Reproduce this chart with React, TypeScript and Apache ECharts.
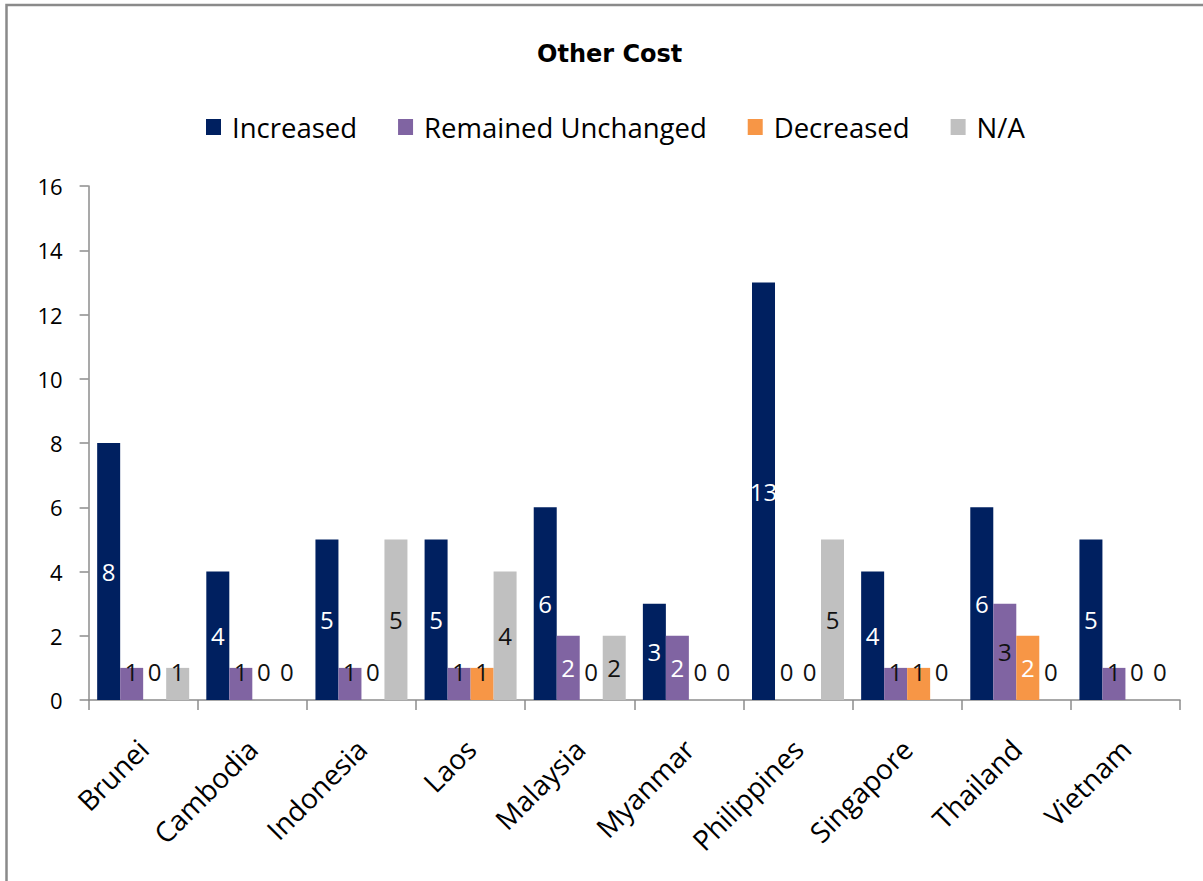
import React, { useEffect, useRef } from "react";
import * as echarts from "echarts";

// Survey responses per country for "Other Cost"
const countries = [
  "Brunei",
  "Cambodia",
  "Indonesia",
  "Laos",
  "Malaysia",
  "Myanmar",
  "Philippines",
  "Singapore",
  "Thailand",
  "Vietnam",
];
const increased = [8, 4, 5, 5, 6, 3, 13, 4, 6, 5];
const remainedUnchanged = [1, 1, 1, 1, 2, 2, 0, 1, 3, 1];
const decreased = [0, 0, 0, 1, 0, 0, 0, 1, 2, 0];
const notApplicable = [1, 0, 5, 4, 2, 0, 5, 0, 0, 0];
const yTicks = { min: 0, max: 16, interval: 2 };

const FONT = "'Open Sans', 'Noto Sans', sans-serif";

type SeriesSpec = {
  name: string;
  data: number[];
  color: string;
  labelColor: (v: number) => string;
};

const seriesSpecs: SeriesSpec[] = [
  { name: "Increased", data: increased, color: "#002060", labelColor: () => "#ffffff" },
  {
    name: "Remained Unchanged",
    data: remainedUnchanged,
    color: "#8064A2",
    labelColor: (v) => (v === 2 ? "#ffffff" : "#111111"),
  },
  {
    name: "Decreased",
    data: decreased,
    color: "#F79646",
    labelColor: (v) => (v === 2 ? "#ffffff" : "#111111"),
  },
  { name: "N/A", data: notApplicable, color: "#C0C0C0", labelColor: () => "#111111" },
];

function buildSeries() {
  return seriesSpecs.map((s) => ({
    name: s.name,
    type: "bar",
    barGap: "0%",
    barCategoryGap: "15.7%",
    itemStyle: { color: s.color },
    data: s.data.map((v) => ({
      value: v,
      label: {
        show: true,
        position: v <= 1 ? "insideBottom" : "inside",
        distance: 17,
        color: s.labelColor(v),
        fontFamily: FONT,
        fontSize: 24,
        formatter: "{c}",
      },
    })),
  }));
}

export default function App() {
  const ref = useRef<HTMLDivElement>(null);

  useEffect(() => {
    if (!ref.current) return;
    const chart = echarts.init(ref.current, undefined, { renderer: "svg" });
    chart.setOption({
      animation: false,
      backgroundColor: "#ffffff",
      title: {
        text: "Other Cost",
        left: 532,
        top: 37,
        textStyle: {
          fontFamily: "'DejaVu Sans', sans-serif",
          fontWeight: "bold",
          fontSize: 24,
          color: "#000000",
        },
      },
      legend: {
        top: 108,
        left: 201,
        itemWidth: 15,
        itemHeight: 16,
        itemGap: 41,
        icon: "rect",
        textStyle: {
          fontFamily: FONT,
          fontSize: 27.5,
          color: "#000000",
          padding: [0, 0, 0, 6],
        },
      },
      grid: {
        left: 88.6,
        right: 23,
        top: 186,
        bottom: 181,
        containLabel: false,
      },
      xAxis: {
        type: "category",
        data: countries,
        boundaryGap: true,
        axisLine: { show: true, lineStyle: { color: "#8c8c8c", width: 1.5 } },
        axisTick: { show: true, length: 10, lineStyle: { color: "#8c8c8c", width: 1.5 } },
        axisLabel: {
          rotate: 45,
          interval: 0,
          margin: 44,
          fontFamily: FONT,
          fontSize: 28,
          color: "#000000",
        },
      },
      yAxis: {
        type: "value",
        min: yTicks.min,
        max: yTicks.max,
        interval: yTicks.interval,
        splitLine: { show: false },
        axisLine: { show: true, lineStyle: { color: "#8c8c8c", width: 1.5 } },
        axisTick: { show: true, length: 9, lineStyle: { color: "#8c8c8c", width: 1.5 } },
        axisLabel: {
          margin: 26,
          fontFamily: FONT,
          fontSize: 22,
          color: "#000000",
        },
      },
      graphic: [
        {
          type: "rect",
          silent: true,
          shape: { x: 6.5, y: 5, width: 1300, height: 1000 },
          style: { fill: "none", stroke: "#8a8a8a", lineWidth: 2.5 },
        },
      ],
      series: buildSeries(),
    });
    return () => chart.dispose();
  }, []);

  return (
    <div
      ref={ref}
      style={{ position: "absolute", left: 0, top: 0, width: 1203, height: 881 }}
    />
  );
}
